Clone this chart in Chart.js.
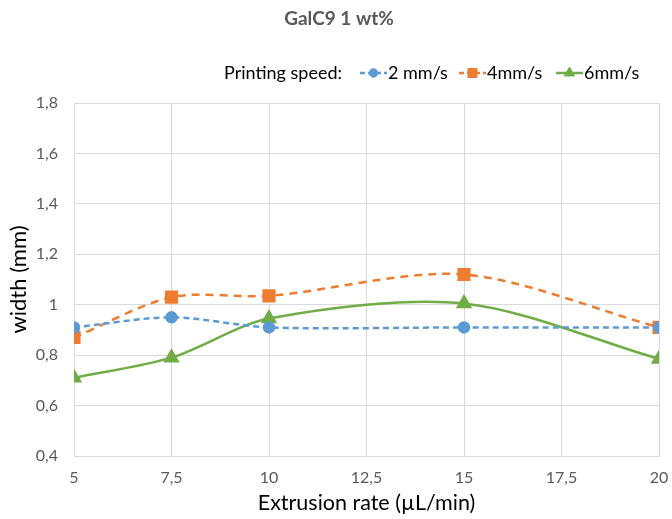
<!DOCTYPE html>
<html><head><meta charset="utf-8">
<script src="https://cdn.jsdelivr.net/npm/chart.js@4.4.0/dist/chart.umd.min.js"></script>
<style>html,body{margin:0;padding:0;background:#fff}#wrap{width:672px;height:519px;position:relative}</style>
</head><body><div id="wrap"><canvas id="c" width="672" height="519"></canvas></div>
<script>
const chartTitle = "GalC9 1 wt%";
const legendTitle = "Printing speed:";
const seriesNames = ["2 mm/s", "4mm/s", "6mm/s"];
const xValues = [5, 7.5, 10, 15, 20];
const speed2 = [0.91, 0.95, 0.91, 0.91, 0.91];
const speed4 = [0.87, 1.03, 1.035, 1.12, 0.91];
const speed6 = [0.71, 0.79, 0.945, 1.005, 0.785];
const xTitle = "Extrusion rate (µL/min)";
const yTitle = "width (mm)";

const FONT = "Lato, 'Open Sans', sans-serif";
const toPts = arr => arr.map((v,i)=>({x:xValues[i], y:v}));
const fmt = v => String(Math.round(v*10)/10).replace('.', ',');

const datasets = [
  {label: seriesNames[0], data: toPts(speed2), borderColor:'#5b9bd5', backgroundColor:'#5b9bd5', borderWidth:2.5, borderDash:[6,4], pointStyle:'circle', pointRadius:5, tension:0.3},
  {label: seriesNames[1], data: toPts(speed4), borderColor:'#ed7d31', backgroundColor:'#ed7d31', borderWidth:2.5, borderDash:[8,6], pointStyle:'rect', pointRadius:7.5, tension:0.3},
  {label: seriesNames[2], data: toPts(speed6), borderColor:'#70ad47', backgroundColor:'#70ad47', borderWidth:2.5, pointStyle:'triangle', pointRadius:7, tension:0.3}
];

const legendPlugin = {
  id:'customLegend',
  afterDraw(chart){
    const ctx = chart.ctx;
    ctx.save();
    ctx.font = "bold 19px " + FONT;
    ctx.fillStyle = '#595959';
    ctx.textAlign = 'center'; ctx.textBaseline = 'middle';
    ctx.fillText(chartTitle, 339, 19);
    ctx.font = "18px " + FONT;
    ctx.fillStyle = '#000';
    ctx.textAlign = 'left';
    const y = 73;
    ctx.fillText(legendTitle, 224, y);
    const starts = [360, 459, 556];
    chart.data.datasets.forEach((ds, i) => {
      const x0 = starts[i], x1 = x0 + 27;
      ctx.strokeStyle = ds.borderColor; ctx.lineWidth = 2.5;
      ctx.setLineDash(ds.borderDash ? [5,3] : []);
      ctx.beginPath(); ctx.moveTo(x0, y); ctx.lineTo(x1, y); ctx.stroke();
      ctx.setLineDash([]);
      ctx.fillStyle = ds.backgroundColor; ctx.strokeStyle = ds.borderColor; ctx.lineWidth = 1;
      Chart.helpers.drawPoint(ctx, {pointStyle: ds.pointStyle, radius: ds.pointRadius*0.85, rotation:0, borderWidth:1}, (x0+x1)/2, y);
      ctx.fillStyle = '#000';
      ctx.fillText(ds.label, x1 + 1, y);
    });
    ctx.restore();
  }
};

new Chart(document.getElementById('c'), {
  type:'line',
  data:{datasets},
  options:{
    responsive:false, animation:false,
    layout:{padding:{top:103, right:13, left:0, bottom:0}},
    plugins:{legend:{display:false}, title:{display:false}, tooltip:{enabled:false}},
    scales:{
      x:{type:'linear', min:5, max:20,
        ticks:{stepSize:2.5, callback:v=>fmt(v), color:'#595959', font:{family:FONT, size:16}, padding:12, maxRotation:0},
        grid:{color:'#d9d9d9', drawTicks:false}, border:{color:'#d9d9d9'},
        title:{display:true, text:xTitle, color:'#000', font:{family:FONT, size:21.5}, padding:{top:0, bottom:3}},
        afterFit(s){ s.height = 63; s.paddingLeft = 0; s.paddingRight = 0; }
      },
      y:{min:0.4, max:1.8,
        ticks:{stepSize:0.2, callback:v=>fmt(v), color:'#595959', font:{family:FONT, size:16}, padding:16},
        grid:{color:'#d9d9d9', drawTicks:false}, border:{display:false},
        title:{display:true, text:yTitle, color:'#000', font:{family:FONT, size:22}, padding:{top:6, bottom:0}},
        afterFit(s){ s.width = 74; s.paddingTop = 0; s.paddingBottom = 0; }
      }
    }
  },
  plugins:[legendPlugin]
});
</script></body></html>
